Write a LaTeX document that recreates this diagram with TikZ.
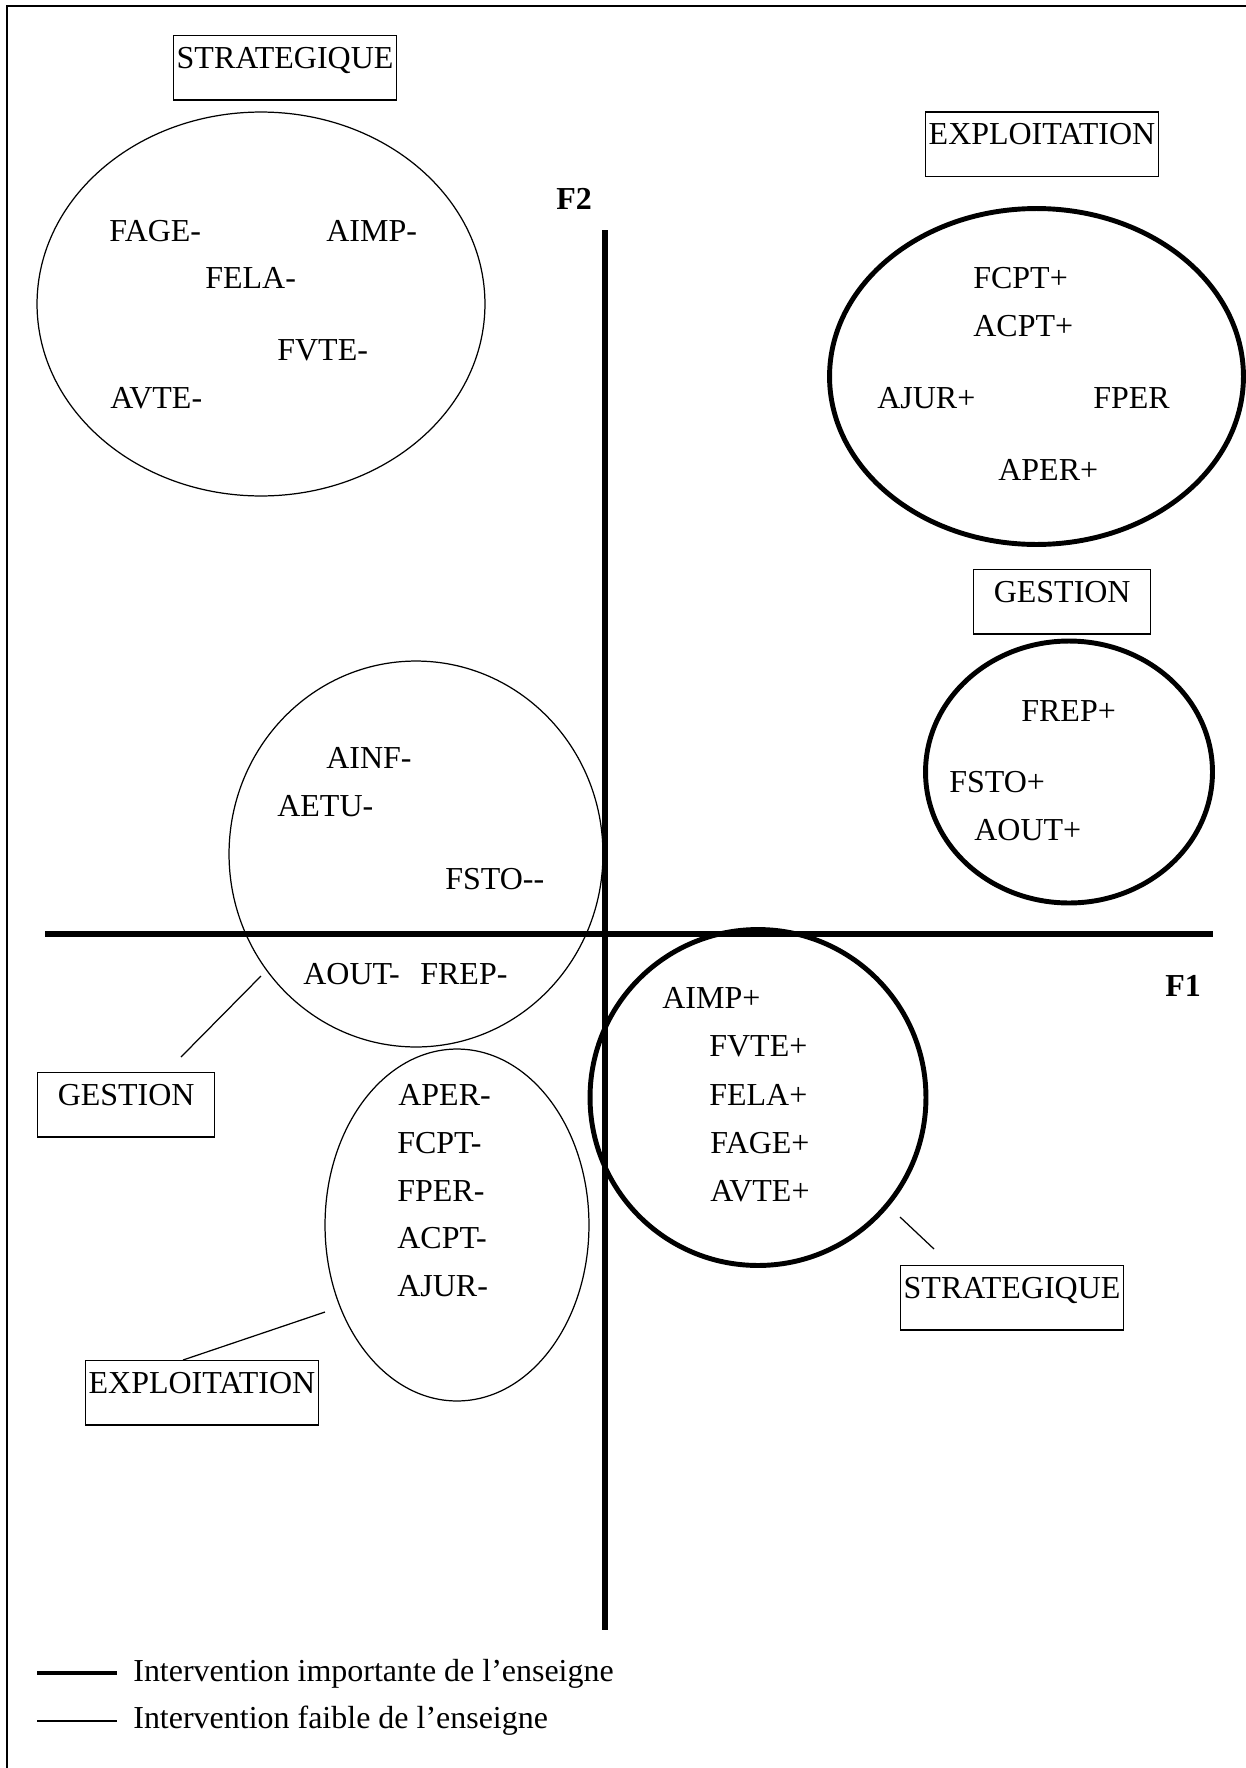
\documentclass[tikz,border=0pt]{standalone}
\usepackage{fontspec}
\setmainfont{Liberation Serif}
\usetikzlibrary{shapes.geometric}

\tikzset{
  faible/.style={draw, line width=0.7pt},
  forte/.style={draw, line width=2.8pt},
  axe/.style={draw, line width=3.3pt},
  zone/.style={ellipse, inner sep=0pt},
  var/.style={anchor=base west, inner sep=0pt},
  tagbox/.style={draw, line width=0.8pt, anchor=base west, inner xsep=0.06cm,
                 inner ysep=0pt, text height=0.65cm, text depth=0.64cm},
  axelabel/.style={anchor=base west, inner sep=0pt, font=\fontsize{18.2}{22}\selectfont\bfseries},
}

\begin{document}
\begin{tikzpicture}[x=0.02cm, y=-0.02cm, font=\fontsize{18.2}{22}\selectfont]

\useasboundingbox (0,0) rectangle (1246,1768);

% Frame
\draw[line width=1.1pt] (7,1768) -- (7,6) -- (1246,6);

% ========== Axes ==========
\coordinate (f2haut) at (605,230);
\coordinate (f2bas) at (605,1630);
\coordinate (f1gauche) at (45,934);
\coordinate (f1droite) at (1213,934);
\draw[axe] (f2haut) -- (f2bas);
\draw[axe] (f1gauche) -- (f1droite);
\node[axelabel] (f2) at (556,209) {F2};
\node[axelabel] (f1) at (1165,996) {F1};

% ========== Strategique - (top left) ==========
\node[tagbox] (strhaut) at (173,68) {STRATEGIQUE};
\node[zone, faible, minimum width=8.96cm, minimum height=7.68cm] (strmoins) at (261,304) {};
\node[var] (fagem) at (109,241) {FAGE-};
\node[var] (aimpm) at (326,241) {AIMP-};
\node[var] (felam) at (205,288.6) {FELA-};
\node[var] (fvtem) at (277,360) {FVTE-};
\node[var] (avtem) at (110,408) {AVTE-};

% ========== Exploitation + (top right) ==========
\node[tagbox] (explhaut) at (925,144.6) {EXPLOITATION};
\node[zone, forte, minimum width=8.28cm, minimum height=6.72cm] (explplus) at (1036.5,376.5) {};
\node[var] (fcptp) at (973,288.6) {FCPT+};
\node[var] (acptp) at (973,336) {ACPT+};
\node[var] (ajurp) at (877,408) {AJUR+};
\node[var] (fper) at (1093,408) {FPER};
\node[var] (aperp) at (998,480) {APER+};

% ========== Gestion + ==========
\node[tagbox, minimum width=3.54cm] (geshaut) at (973,602) {GESTION};
\node[zone, forte, minimum width=5.74cm, minimum height=5.24cm] (gesplus) at (1069,772) {};
\node[var] (frepp) at (1021,721) {FREP+};
\node[var] (fstop) at (949,792) {FSTO+};
\node[var] (aoutp) at (974,840) {AOUT+};

% ========== Gestion - ==========
\node[zone, faible, minimum width=7.48cm, minimum height=7.72cm] (gesmoins) at (416,854) {};
\node[var] (ainfm) at (326,768) {AINF-};
\node[var] (aetum) at (277,816) {AETU-};
\node[var] (fstom) at (445,889) {FSTO-{}-};
\node[var] (aoutm) at (303,984) {AOUT-};
\node[var] (frepm) at (420,984) {FREP-};
\node[tagbox, minimum width=3.54cm] (gesbas) at (37,1105) {GESTION};
\coordinate (ggA) at (261,976);
\coordinate (ggB) at (181,1057);
\draw[faible] (ggA) -- (ggB);

% ========== Strategique + ==========
\node[zone, forte, minimum width=6.72cm, minimum height=6.72cm] (strplus) at (758,1097.5) {};
\node[var] (aimpp) at (662,1008) {AIMP+};
\node[var] (fvtep) at (709,1056) {FVTE+};
\node[var] (felap) at (709,1105) {FELA+};
\node[var] (fagep) at (710,1153) {FAGE+};
\node[var] (avtep) at (710,1201) {AVTE+};
\node[tagbox] (strbas) at (900,1298) {STRATEGIQUE};
\coordinate (gsA) at (900,1217);
\coordinate (gsB) at (934,1249);
\draw[faible] (gsA) -- (gsB);

% ========== Exploitation - ==========
\node[zone, faible, minimum width=5.28cm, minimum height=7.04cm] (explmoins) at (457,1225) {};
\node[var] (aperm) at (398,1105) {APER-};
\node[var] (fcptm) at (397,1153) {FCPT-};
\node[var] (fperm) at (397,1201) {FPER-};
\node[var] (acptm) at (397,1248) {ACPT-};
\node[var] (ajurm) at (397,1296) {AJUR-};
\node[tagbox] (explbas) at (85,1393) {EXPLOITATION};
\coordinate (geA) at (325,1312);
\coordinate (geB) at (183,1360);
\draw[faible] (geA) -- (geB);

% ========== Legend ==========
\coordinate (legfA) at (37,1673);
\coordinate (legfB) at (117,1673);
\draw[forte] (legfA) -- (legfB);
\node[var] (legforte) at (133,1681) {Intervention importante de l’enseigne};
\coordinate (legaA) at (37,1721);
\coordinate (legaB) at (117,1721);
\draw[faible] (legaA) -- (legaB);
\node[var] (legfaible) at (133,1728) {Intervention faible de l’enseigne};

\end{tikzpicture}
\end{document}
